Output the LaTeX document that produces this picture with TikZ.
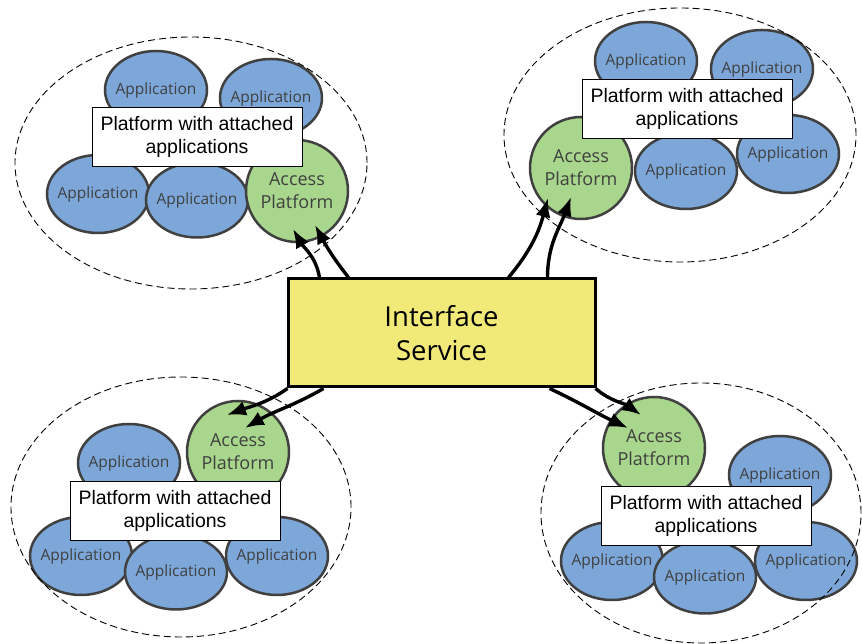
\documentclass[tikz,border=0pt]{standalone}
\usepackage{fontspec}
\setmainfont{Liberation Sans}
\newfontfamily\bubfont{Open Sans}
\usetikzlibrary{shapes.geometric,arrows.meta,calc}
\definecolor{appblue}{RGB}{124,167,216}
\definecolor{accgreen}{RGB}{168,214,140}
\definecolor{bordgray}{RGB}{64,64,64}
\definecolor{ifyellow}{RGB}{242,234,120}
\newcommand{\apptxt}{\makebox[0pt]{Application}}
\tikzset{
  appnode/.style={ellipse, draw=bordgray, line width=2.5pt, fill=appblue, inner sep=0pt,
    minimum width=102pt, minimum height=78pt, text=bordgray,
    font=\bubfont\fontsize{15.5}{18}\selectfont},
  accnode/.style={circle, draw=bordgray, line width=2.5pt, fill=accgreen, inner sep=0pt,
    minimum size=102pt, text=bordgray, align=center,
    font=\bubfont\fontsize{18}{23}\selectfont},
  groupnode/.style={ellipse, draw=black, dash pattern=on 7pt off 4pt, line width=0.9pt, inner sep=0pt},
  labelnode/.style={rectangle, draw=black, line width=0.8pt, fill=white, align=center,
    minimum width=210pt, minimum height=59pt, inner sep=0pt,
    font=\fontsize{19.5}{23.3}\selectfont},
  ifnode/.style={rectangle, draw=black, line width=3pt, fill=ifyellow, align=center,
    minimum width=307pt, minimum height=108pt, inner sep=0pt,
    font=\bubfont\fontsize{27.5}{34}\selectfont},
  conn/.style={line width=3.4pt, -{Latex[length=19pt,width=15pt]}}
}
\begin{document}
\begin{tikzpicture}[x=1pt,y=1pt]
\useasboundingbox (0,0) rectangle (862,644);
% top-left cluster
\node[appnode] (a11) at (156,554) {\apptxt};
\node[appnode] (a12) at (271,546) {\apptxt};
\node[appnode] (a13) at (98,450) {\apptxt};
\node[appnode, minimum height=75pt] (a14) at (197,444) {\apptxt};
\node[accnode] (p1) at (297,453) {Access\\Platform};
\node[groupnode, minimum width=352pt, minimum height=252pt] (e1) at (191,481) {};
\node[labelnode] (l1) at (197,507) {Platform with attached\\applications};
% top-right cluster
\node[appnode] (a21) at (646,583) {\apptxt};
\node[appnode] (a22) at (762,575) {\apptxt};
\node[appnode] (a24) at (788,490) {\apptxt};
\node[appnode, minimum height=76pt] (a23) at (686,473) {\apptxt};
\node[accnode] (p2) at (581,476) {Access\\Platform};
\node[groupnode, minimum width=352pt, minimum height=254pt] (e2) at (680,509) {};
\node[labelnode] (l2) at (687,535) {Platform with attached\\applications};
% bottom-left cluster
\node[appnode] (a31) at (129,181) {\apptxt};
\node[accnode] (p3) at (238,192) {Access\\Platform};
\node[appnode] (a32) at (81,88) {\apptxt};
\node[appnode] (a34) at (277,88) {\apptxt};
\node[appnode, minimum height=75pt] (a33) at (176,72) {\apptxt};
\node[groupnode, minimum width=340pt, minimum height=260pt] (e3) at (181,137) {};
\node[labelnode] (l3) at (175,133) {Platform with attached\\applications};
% bottom-right cluster
\node[accnode] (p4) at (654,196) {Access\\Platform};
\node[appnode] (a41) at (780,169) {\apptxt};
\node[appnode] (a42) at (612,83) {\apptxt};
\node[appnode] (a44) at (806,83) {\apptxt};
\node[appnode, minimum height=73pt] (a43) at (705,67) {\apptxt};
\node[groupnode, minimum width=320pt, minimum height=260pt] (e4) at (701,131) {};
\node[labelnode] (l4) at (706,128) {Platform with attached\\applications};
% interface service
\node[ifnode] (is) at (441.5,311) {Interface\\Service};
% connectors
\draw[conn] ($(is.north west)+(33,0)$) to[out=100,in=-60] ($(p1.center)+(-4,-38)$);
\draw[conn] ($(is.north west)+(62,0)$) to[out=128,in=-62] ($(p1.center)+(18,-34)$);
\draw[conn] ($(is.north east)+(-88,0)$) to[out=50,in=-105] ($(p2.center)+(-33,-30)$);
\draw[conn] ($(is.north east)+(-49,0)$) to[out=90,in=-110] ($(p2.center)+(-10,-29)$);
\draw[conn] ($(is.south west)+(1,0)$) to[out=-145,in=20] ($(p3.center)+(-11,37)$);
\draw[conn] ($(is.south west)+(37,0)$) to[out=-150,in=30] ($(p3.center)+(7,24)$);
\draw[conn] ($(is.south east)+(-47,0)$) to[out=-25,in=155] ($(p4.center)+(-26,20)$);
\draw[conn] ($(is.south east)+(-1,0)$) to[out=-40,in=145] ($(p4.center)+(-13,33)$);
\end{tikzpicture}
\end{document}
